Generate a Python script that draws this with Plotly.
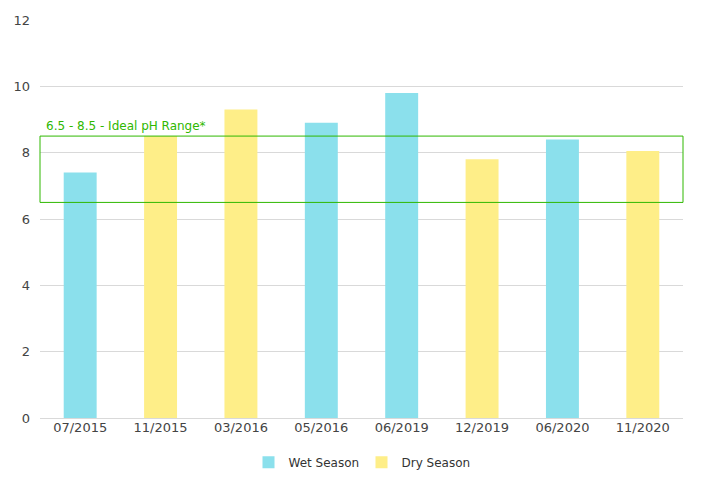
import plotly.graph_objects as go

categories = ["07/2015", "11/2015", "03/2016", "05/2016", "06/2019", "12/2019", "06/2020", "11/2020"]
wet_values = [7.4, 0, 0, 8.9, 9.8, 0, 8.4, 0]
dry_values = [0, 8.5, 9.3, 0, 0, 7.8, 0, 8.05]
range_low, range_high = 6.5, 8.5
range_label = "6.5 - 8.5 - Ideal pH Range*"
y_ticks = [0, 2, 4, 6, 8, 10, 12]

fig = go.Figure()
fig.add_trace(go.Bar(x=categories, y=wet_values, name="Wet Season",
                     marker=dict(color="#8be0ec", line=dict(width=0)), width=0.41))
fig.add_trace(go.Bar(x=categories, y=dry_values, name="Dry Season",
                     marker=dict(color="#feee88", line=dict(width=0)), width=0.41))

fig.add_shape(type="rect", xref="paper", yref="y", x0=0, x1=1, y0=range_low, y1=range_high,
              line=dict(color="#2fb800", width=1), fillcolor="rgba(0,0,0,0)", layer="above")
fig.add_annotation(xref="paper", yref="y", x=0.006, y=range_high, text=range_label,
                   showarrow=False, xanchor="left", yanchor="bottom", yshift=1,
                   font=dict(family="DejaVu Sans", size=12, color="#2fb800"))

fig.update_layout(
    width=702, height=498,
    margin=dict(l=40, r=19, t=20, b=80, autoexpand=False),
    barmode="overlay",
    plot_bgcolor="white", paper_bgcolor="white",
    font=dict(family="DejaVu Sans", size=12, color="#444444"),
    showlegend=True,
    legend=dict(orientation="h", x=0.5, xanchor="center", y=-0.075, yanchor="top",
                font=dict(size=12, color="#333333"), itemwidth=30,
                entrywidth=68, entrywidthmode="pixels"),
    xaxis=dict(showgrid=False, showline=False, ticks="", tickfont=dict(size=13), automargin=False),
    yaxis=dict(range=[0, 12], tickvals=y_ticks, showgrid=True, gridcolor="#d9d9d9",
               zeroline=True, zerolinecolor="#d9d9d9", zerolinewidth=1,
               ticks="", tickfont=dict(size=13), ticklabelstandoff=9, automargin=False),
)

fig.write_html("out.html", config={"displayModeBar": False},
               post_script="document.body.style.margin='0';")
